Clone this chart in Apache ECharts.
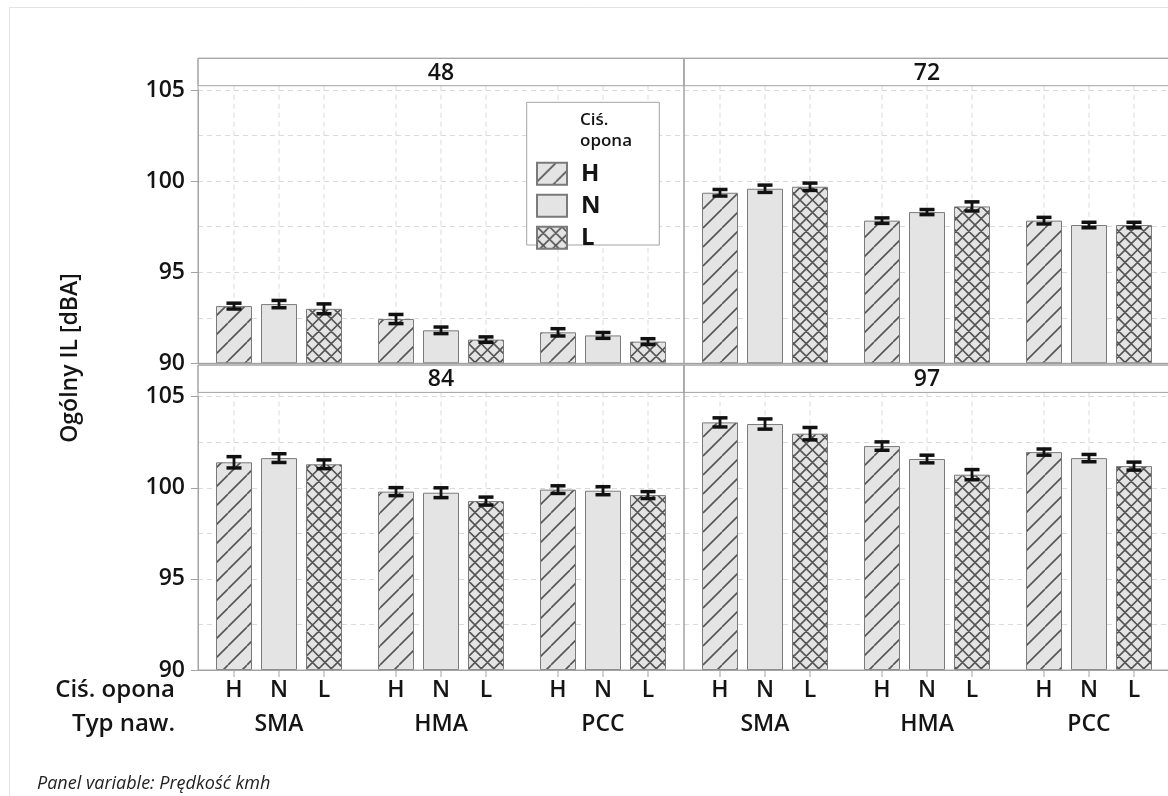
<!DOCTYPE html>
<html><head><meta charset="utf-8">
<script src="https://cdn.jsdelivr.net/npm/echarts@6.0.0/dist/echarts.min.js"></script>
<style>html,body{margin:0;padding:0;background:#fff}#c{width:1168px;height:796px}</style>
</head><body><div id="c"></div>
<script>
// ---- data ----
const pavements = ['SMA', 'HMA', 'PCC'];
const pressures = ['H', 'N', 'L'];
const speeds = ['48', '72', '84', '97'];
const yTicks = [90, 95, 100, 105];

const mean48_H = [93.14, 92.43, 91.70];
const mean48_N = [93.25, 91.81, 91.53];
const mean48_L = [92.99, 91.30, 91.19];
const err48_H = [0.16, 0.25, 0.20];
const err48_N = [0.20, 0.18, 0.16];
const err48_L = [0.27, 0.15, 0.16];

const mean72_H = [99.36, 97.83, 97.83];
const mean72_N = [99.58, 98.30, 97.59];
const mean72_L = [99.69, 98.61, 97.59];
const err72_H = [0.18, 0.15, 0.18];
const err72_N = [0.20, 0.14, 0.15];
const err72_L = [0.20, 0.25, 0.15];

const mean84_H = [101.40, 99.79, 99.90];
const mean84_N = [101.63, 99.73, 99.84];
const mean84_L = [101.29, 99.27, 99.60];
const err84_H = [0.31, 0.22, 0.21];
const err84_N = [0.24, 0.27, 0.22];
const err84_L = [0.24, 0.22, 0.19];

const mean97_H = [103.59, 102.29, 101.96];
const mean97_N = [103.50, 101.58, 101.63];
const mean97_L = [102.97, 100.72, 101.19];
const err97_H = [0.25, 0.23, 0.17];
const err97_N = [0.28, 0.21, 0.20];
const err97_L = [0.34, 0.28, 0.22];

const means = [[mean48_H, mean48_N, mean48_L], [mean72_H, mean72_N, mean72_L],
               [mean84_H, mean84_N, mean84_L], [mean97_H, mean97_N, mean97_L]];
const errs = [[err48_H, err48_N, err48_L], [err72_H, err72_N, err72_L],
              [err84_H, err84_N, err84_L], [err97_H, err97_N, err97_L]];

// ---- layout / style ----
const FONT = '"Open Sans", "Noto Sans", "DejaVu Sans", sans-serif';
const TXT = '#141414';
const FRAME = '#a3a3a3';
const GRIDC = '#dadada';
const BAR_W = 36, BAR_STEP = 45, CAP = 7.5;
const grids = [
  {left: 198, top: 90, width: 486, height: 273.3},
  {left: 684, top: 90, width: 486, height: 273.3},
  {left: 198, top: 396.7, width: 486, height: 273.3},
  {left: 684, top: 396.7, width: 486, height: 273.3}
];
const stripH = 27.4, stripGap = 4.3;

function makePattern(kind) {
  if (kind === 'N') return '#e4e4e4';
  const size = kind === 'H' ? 19 : 25;
  const period = kind === 'H' ? 19 : 12.5;
  const cv = document.createElement('canvas');
  cv.width = size; cv.height = size;
  const ctx = cv.getContext('2d');
  ctx.fillStyle = '#e4e4e4'; ctx.fillRect(0, 0, size, size);
  ctx.strokeStyle = '#555'; ctx.lineWidth = 1.6;
  ctx.beginPath();
  for (let k = -size; k <= 2 * size; k += period) { ctx.moveTo(k, size); ctx.lineTo(k + size, 0); }
  if (kind === 'L') for (let k = -size; k <= 2 * size; k += period) { ctx.moveTo(k, 0); ctx.lineTo(k + size, size); }
  ctx.stroke();
  return {image: cv, repeat: 'repeat'};
}
const fills = pressures.map(makePattern);

const chart = echarts.init(document.getElementById('c'), null, {renderer: 'canvas'});

const xAxis = grids.map((g, i) => ({
  type: 'category', gridIndex: i, data: pavements,
  axisLine: {show: true, lineStyle: {color: FRAME, width: 1}},
  axisTick: {show: false},
  axisLabel: {show: i >= 2, interval: 0, margin: 43, fontSize: 23, fontWeight: 600, color: TXT, fontFamily: FONT},
  splitLine: {show: false}
}));
const yAxis = grids.map((g, i) => ({
  type: 'value', gridIndex: i, min: yTicks[0], max: yTicks[yTicks.length - 1], interval: 5, startValue: 90,
  axisLine: {show: i % 2 === 0, lineStyle: {color: FRAME}},
  axisTick: {show: i % 2 === 0, length: 7, lineStyle: {color: FRAME}},
  axisLabel: {show: i % 2 === 0, margin: 13, fontSize: 23, fontWeight: 600, color: TXT, fontFamily: FONT},
  splitLine: {show: true, lineStyle: {color: GRIDC, type: [5, 4]}},
  minorTick: {show: false, splitNumber: 2},
  minorSplitLine: {show: true, lineStyle: {color: GRIDC, type: [5, 4]}}
}));

const series = [];
// vertical grid lines, ticks, H/N/L labels
grids.forEach((g, gi) => {
  const data = [];
  pavements.forEach((pv, c) => pressures.forEach((pr, p) => data.push([c, 90, p])));
  series.push({
    type: 'custom', xAxisIndex: gi, yAxisIndex: gi, z: 1, silent: true, data,
    renderItem(params, api) {
      const c = api.value(0), p = api.value(2);
      const x = api.coord([c, 90])[0] + (p - 1) * BAR_STEP;
      const cs = params.coordSys;
      const bottom = cs.y + cs.height;
      const ch = [{type: 'line', shape: {x1: x, y1: cs.y - stripGap, x2: x, y2: bottom},
                   style: {stroke: GRIDC, lineWidth: 1, lineDash: [5, 4]}}];
      if (gi >= 2) {
        ch.push({type: 'line', shape: {x1: x, y1: bottom, x2: x, y2: bottom + 7}, style: {stroke: FRAME, lineWidth: 1}});
        ch.push({type: 'text', x: x, y: bottom + 20,
                 style: {text: pressures[p], fontSize: 23, fontWeight: 600, fill: TXT, fontFamily: FONT,
                         align: 'center', verticalAlign: 'middle'}});
      }
      return {type: 'group', children: ch};
    }
  });
});
// bars
grids.forEach((g, gi) => {
  pressures.forEach((pr, p) => {
    series.push({
      type: 'bar', name: pr, xAxisIndex: gi, yAxisIndex: gi, z: 2,
      barWidth: BAR_W, barGap: '25%',
      itemStyle: {color: fills[p], borderColor: '#7a7a7a', borderWidth: 1},
      emphasis: {disabled: true},
      data: means[gi][p]
    });
  });
});
// error bars
grids.forEach((g, gi) => {
  pressures.forEach((pr, p) => {
    series.push({
      type: 'custom', xAxisIndex: gi, yAxisIndex: gi, z: 3, silent: true,
      data: means[gi][p].map((m, c) => [c, m, errs[gi][p][c]]),
      renderItem(params, api) {
        const c = api.value(0), m = api.value(1), e = api.value(2);
        const t = api.coord([c, m + e]), b = api.coord([c, m - e]);
        const x = t[0] + (p - 1) * BAR_STEP;
        const st = {stroke: '#111', lineWidth: 3.5};
        return {type: 'group', children: [
          {type: 'line', shape: {x1: x, y1: t[1], x2: x, y2: b[1]}, style: {stroke: '#111', lineWidth: 2.8}},
          {type: 'line', shape: {x1: x - CAP, y1: t[1], x2: x + CAP, y2: t[1]}, style: st},
          {type: 'line', shape: {x1: x - CAP, y1: b[1], x2: x + CAP, y2: b[1]}, style: st}
        ]};
      }
    });
  });
});

const graphic = [];
graphic.push({type: 'rect', left: 7, top: 5, z: 0, silent: true,
  shape: {x: 0, y: 0, width: 1400, height: 1000}, style: {fill: 'none', stroke: '#e3e3e3', lineWidth: 1}});
grids.forEach((g, gi) => {
  const sy = g.top - stripGap - stripH;
  graphic.push({type: 'rect', z: 6, silent: true, shape: {x: g.left, y: sy, width: g.width, height: stripH},
    style: {fill: '#fff', stroke: FRAME, lineWidth: 1}});
  graphic.push({type: 'rect', z: 7, silent: true, shape: {x: g.left, y: sy, width: g.width, height: g.height + stripH + stripGap},
    style: {fill: 'none', stroke: FRAME, lineWidth: 1}});
  graphic.push({type: 'text', z: 8, silent: true, x: g.left + g.width / 2, y: sy + stripH / 2 + 1,
    style: {text: speeds[gi], fontSize: 23, fontWeight: 600, fill: TXT, fontFamily: FONT, align: 'center', verticalAlign: 'middle'}});
});
// legend box + title
graphic.push({type: 'rect', z: 8, silent: true, shape: {x: 526.7, y: 102.3, width: 132.6, height: 142.7},
  style: {fill: '#fff', stroke: FRAME, lineWidth: 1}});
graphic.push({type: 'text', z: 9, silent: true, x: 580, y: 109,
  style: {text: 'Ciś.\nopona', fontSize: 17, fontWeight: 600, lineHeight: 21.7, fill: TXT, fontFamily: FONT, align: 'left', verticalAlign: 'top'}});
// axis titles / row headers / footer
graphic.push({type: 'text', z: 9, silent: true, x: 70, y: 358, rotation: Math.PI / 2,
  style: {text: 'Ogólny IL [dBA]', fontSize: 23, fontWeight: 600, fill: TXT, fontFamily: FONT, align: 'center', verticalAlign: 'middle'}});
graphic.push({type: 'text', z: 9, silent: true, x: 175, y: 690,
  style: {text: 'Ciś. opona', fontSize: 24, fontWeight: 600, fill: TXT, fontFamily: FONT, align: 'right', verticalAlign: 'middle'}});
graphic.push({type: 'text', z: 9, silent: true, x: 175, y: 724,
  style: {text: 'Typ naw.', fontSize: 24, fontWeight: 600, fill: TXT, fontFamily: FONT, align: 'right', verticalAlign: 'middle'}});
graphic.push({type: 'text', z: 9, silent: true, x: 37, y: 784,
  style: {text: 'Panel variable: Prędkość kmh', fontSize: 18, fontStyle: 'italic', fill: '#222', fontFamily: FONT, align: 'left', verticalAlign: 'middle'}});

chart.setOption({
  animation: false,
  backgroundColor: '#fff',
  grid: grids.map(g => Object.assign({outerBoundsMode: 'none', containLabel: false}, g)),
  xAxis, yAxis, series, graphic,
  legend: {
    show: true, z: 20, orient: 'vertical', left: 536, top: 161.7, padding: 0, icon: 'rect',
    data: pressures, itemWidth: 30, itemHeight: 22, itemGap: 8, selectedMode: false,
    textStyle: {fontSize: 24, fontWeight: 'bold', color: TXT, fontFamily: FONT, padding: [0, 0, 0, 9]}
  },
  tooltip: {show: false}
});
</script></body></html>
